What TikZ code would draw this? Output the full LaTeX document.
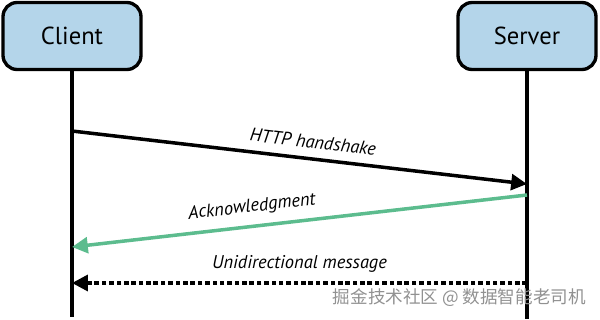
\documentclass[tikz,border=0pt]{standalone}
\usepackage{fontspec}
\setmainfont{PT Sans}
\newfontfamily\cjkfont{Noto Sans CJK SC}
\usetikzlibrary{arrows.meta, calc}
\definecolor{boxblue}{RGB}{180,213,234}
\definecolor{ackgreen}{RGB}{92,188,142}
\definecolor{markgray}{RGB}{145,145,145}

\begin{document}
\begin{tikzpicture}[x=0.02cm, y=-0.02cm,
    party/.style={rectangle, draw=black, line width=1.9pt, fill=boxblue, rounded corners=8pt, minimum width=2.76cm, minimum height=1.34cm, font=\fontsize{14}{16}\selectfont},
    life/.style={line width=2pt},
    msg/.style={-{Triangle[length=9pt, width=9pt]}, line width=2pt},
    lbl/.style={font=\itshape\fontsize{10.5}{12}\selectfont, inner sep=2pt}
]
\useasboundingbox (0,0) rectangle (600,319);

\node[party] (client) at (72,36) {Client};
\node[party] (server) at (527,36) {Server};

\coordinate (clientend) at (72,317);
\coordinate (serverend) at (527,319);
\draw[life] (client) -- (clientend);
\draw[life] (server) -- (serverend);

\coordinate (c1) at (72,131);
\coordinate (s1) at (527,184);
\coordinate (s2) at (527,195);
\coordinate (c2) at (72,247);
\coordinate (s3) at (527,283);
\coordinate (c3) at (72,283);

\draw[msg] (c1) -- (s1) node[lbl, pos=0.525, sloped, above=3pt] (hs) {HTTP handshake};
\draw[msg, ackgreen] (s2) -- (c2) node[lbl, black, pos=0.6, sloped, above=3pt] (ack) {Acknowledgment};
\draw[msg, dash pattern=on 2.6pt off 1.6pt] (s3) -- (c3) node[lbl, pos=0.5, above=3pt] (uni) {Unidirectional message};

\node[anchor=east, text=markgray, font=\cjkfont\fontsize{10}{12}\selectfont] (mark) at (592,298) {掘金技术社区 @ 数据智能老司机};
\end{tikzpicture}
\end{document}
